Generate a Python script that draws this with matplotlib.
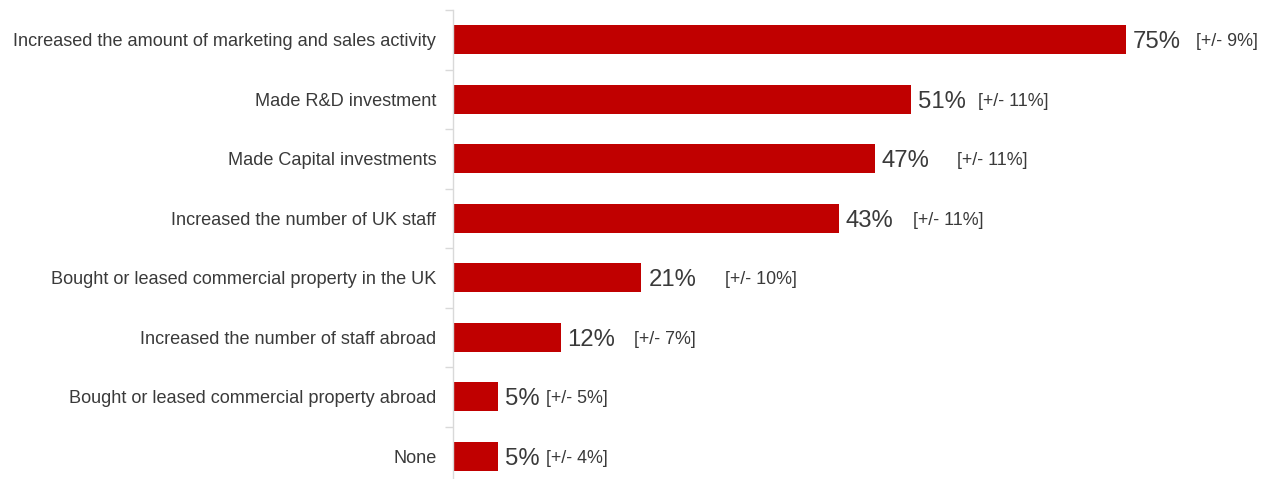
import matplotlib
matplotlib.use("Agg")
import matplotlib.pyplot as plt
import numpy as np

plt.rcParams['font.family'] = ['Liberation Sans', 'DejaVu Sans']

# Survey responses: actions taken, share of respondents and confidence margin
categories = [
    "Increased the amount of marketing and sales activity",
    "Made R&D investment",
    "Made Capital investments",
    "Increased the number of UK staff",
    "Bought or leased commercial property in the UK",
    "Increased the number of staff abroad",
    "Bought or leased commercial property abroad",
    "None",
]
values = [75, 51, 47, 43, 21, 12, 5, 5]
margins = [9, 11, 11, 11, 10, 7, 5, 4]

# x position (in axis units) where each margin annotation starts
margin_label_x = [82.8, 58.5, 56.2, 51.3, 30.3, 20.2, 10.4, 10.4]

BAR_COLOR = "#C00000"
TEXT_COLOR = "#3A3A3A"
AXIS_COLOR = "#D9D9D9"

W, H = 1261, 479
fig = plt.figure(figsize=(W / 100, H / 100), dpi=100)
ax_left = 453 / W
ax_bottom_px = 486
ax = fig.add_axes([ax_left, (H - ax_bottom_px) / H, 807.6 / W, (ax_bottom_px - 10) / H])

n = len(categories)
y = np.arange(n)
ax.barh(y, values, height=0.49, color=BAR_COLOR, zorder=2)
ax.set_ylim(n - 0.5, -0.5)
ax.set_xlim(0, 90)

for yi, v, m, mx in zip(y, values, margins, margin_label_x):
    ax.annotate(f"{v}%", xy=(v, yi), xytext=(5, 0), textcoords="offset points",
                ha="left", va="center_baseline", fontsize=17.2, color=TEXT_COLOR)
    ax.text(mx, yi, f"[+/- {m}%]", ha="left", va="center_baseline",
            fontsize=12.9, color=TEXT_COLOR)

ax.set_yticks(y)
ax.set_yticklabels(categories, fontsize=13.1, color=TEXT_COLOR)
ax.tick_params(axis="y", which="major", length=0, pad=12)
ax.set_yticks(np.arange(n + 1) - 0.5, minor=True)
ax.tick_params(axis="y", which="minor", length=6, color=AXIS_COLOR, width=1)
ax.set_xticks([])

for side in ("top", "right", "bottom"):
    ax.spines[side].set_visible(False)
ax.spines["left"].set_color(AXIS_COLOR)
ax.spines["left"].set_linewidth(1)

fig.savefig("out.png", dpi=100, facecolor="white")
